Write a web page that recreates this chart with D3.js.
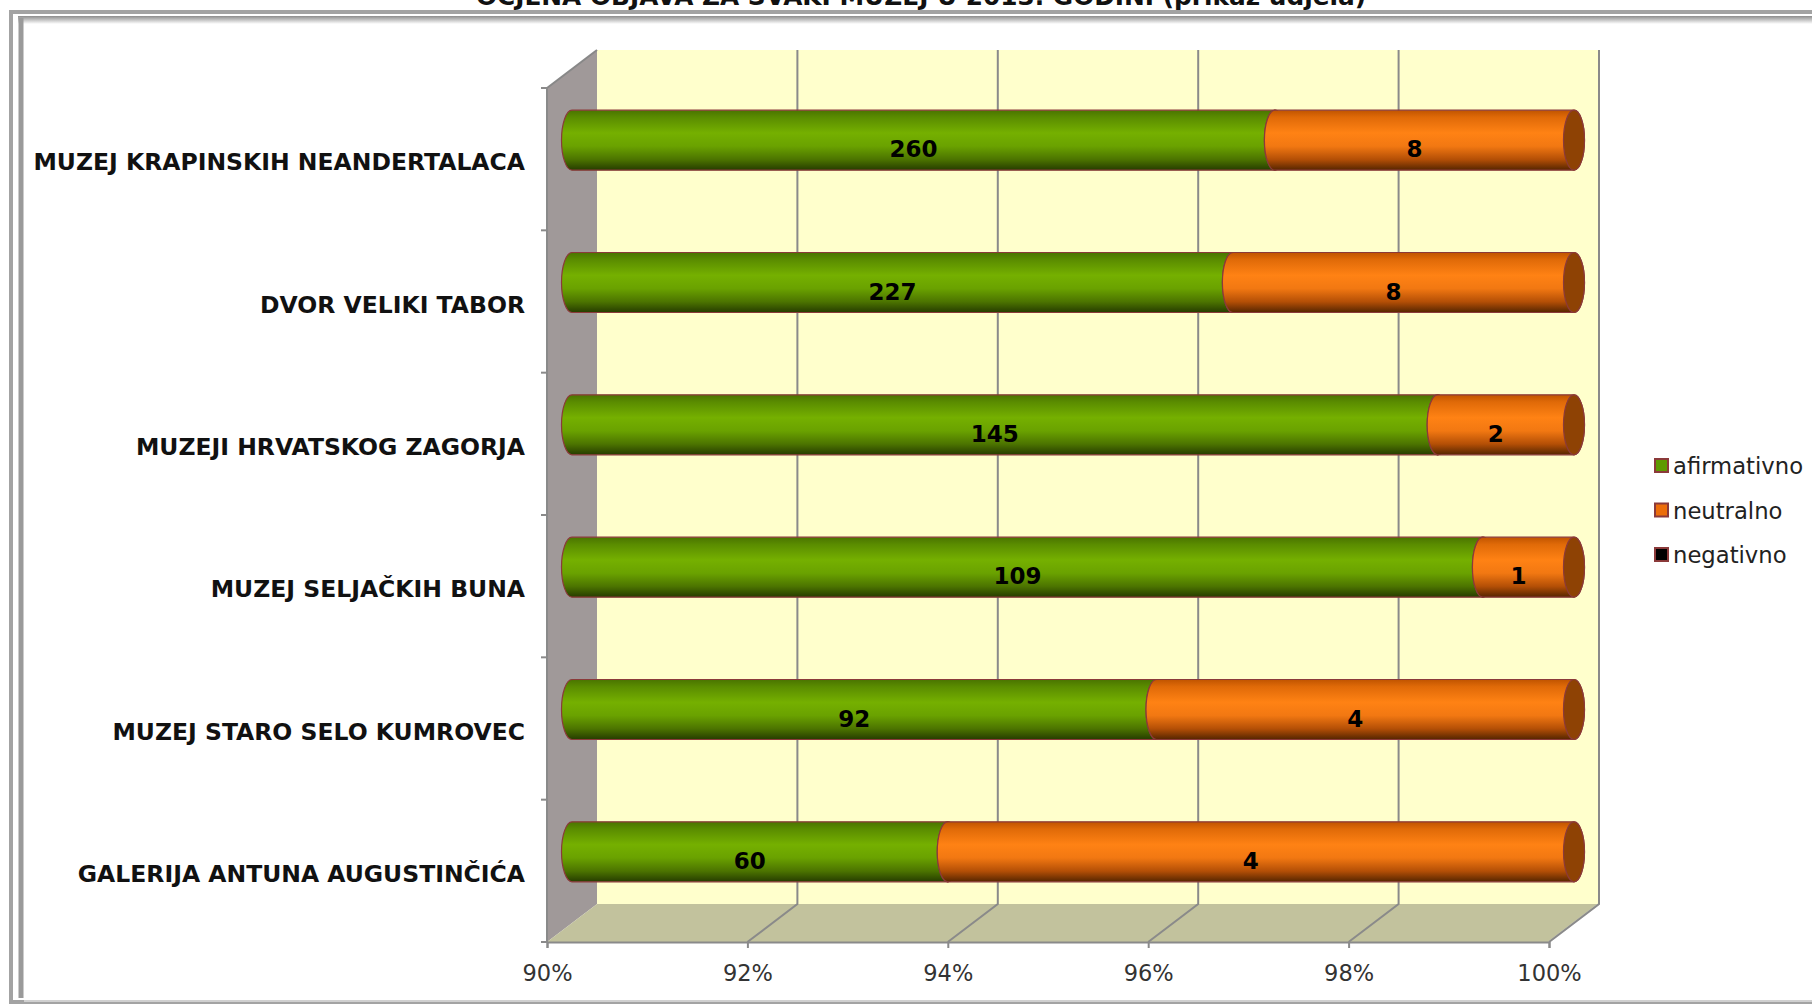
<!DOCTYPE html>
<html>
  <head>
    <meta charset="utf-8">
    <title>Ocjena objava za svaki muzej u 2013. godini</title>
    <script src="https://d3js.org/d3.v7.min.js"></script>
    <style>
      body { margin: 0; background: #fff; }
      svg { display: block; font-family: "DejaVu Sans", Verdana, sans-serif; }
    </style>
  </head>
  <body>
    <div id="chart"></div>

    <script>
      // data
      const categories = [
        "MUZEJ KRAPINSKIH NEANDERTALACA",
        "DVOR VELIKI TABOR",
        "MUZEJI HRVATSKOG ZAGORJA",
        "MUZEJ SELJAČKIH BUNA",
        "MUZEJ STARO SELO KUMROVEC",
        "GALERIJA ANTUNA AUGUSTINČIĆA"
      ];
      const afirmativno = [260, 227, 145, 109, 92, 60];
      const neutralno = [8, 8, 2, 1, 4, 4];
      const negativno = [0, 0, 0, 0, 0, 0];
      const seriesNames = ["afirmativno", "neutralno", "negativno"];
      const tickValues = [0.90, 0.92, 0.94, 0.96, 0.98, 1.00];
      const title = "OCJENA OBJAVA ZA SVAKI MUZEJ U 2013. GODINI (prikaz udjela)";

      const W = 1812, H = 1005;
      const svg = d3.select("#chart").append("svg").attr("width", W).attr("height", H);

      // plot geometry (front plane) and 3d depth offset
      const pL = 547, pR = 1549, pT = 88, pB = 942;
      const depthX = 50, depthY = -38;

      const x = d3.scaleLinear().domain([0.9, 1]).range([pL, pR]);
      const y = d3.scaleBand().domain(categories).range([pT, pB]);

      const defs = svg.append("defs");
      function grad(id, stops) {
        const g = defs.append("linearGradient").attr("id", id)
          .attr("x1", 0).attr("y1", 0).attr("x2", 0).attr("y2", 1);
        stops.forEach(s => g.append("stop").attr("offset", s[0]).attr("stop-color", s[1]));
      }
      grad("g-green", [[0, "#4a7400"], [0.12, "#5a8c00"], [0.38, "#75b000"], [0.6, "#6aa200"], [0.82, "#4c7400"], [1, "#263c00"]]);
      grad("g-orange", [[0, "#c05400"], [0.12, "#e06a08"], [0.38, "#ff8214"], [0.6, "#f27812"], [0.82, "#b44f06"], [1, "#552500"]]);
      grad("g-black", [[0, "#333"], [0.4, "#111"], [1, "#000"]]);
      grad("g-frameTop", [[0, "#8c8c8c"], [1, "#ffffff"]]);
      const fills = ["url(#g-green)", "url(#g-orange)", "url(#g-black)"];
      const capFills = ["#4e7d00", "#8e4204", "#111"];
      const legendFills = ["#5e9a00", "#ec6e0a", "#000"];

      // title (cut off at top in the original)
      svg.append("text")
        .attr("x", 921).attr("y", 5)
        .attr("text-anchor", "middle")
        .style("font-size", "24.8px").style("font-weight", "bold").style("fill", "#111")
        .text(title);

      // outer frame
      svg.append("rect").attr("x", 11).attr("y", 12).attr("width", 1830).attr("height", 990)
        .attr("fill", "none").attr("stroke", "#a3a3a3").attr("stroke-width", 4);
      svg.append("rect").attr("x", 18).attr("y", 16).attr("width", 1820).attr("height", 8)
        .attr("fill", "url(#g-frameTop)");
      svg.append("line").attr("x1", 21).attr("x2", 21).attr("y1", 18).attr("y2", 998)
        .attr("stroke", "#9a9a9a").attr("stroke-width", 5);
      svg.append("line").attr("x1", 24).attr("x2", 1812).attr("y1", 1001).attr("y2", 1001)
        .attr("stroke", "#d0d0d0").attr("stroke-width", 2);

      // back wall
      svg.append("rect")
        .attr("x", pL + depthX).attr("y", pT + depthY)
        .attr("width", pR - pL).attr("height", pB - pT)
        .attr("fill", "#ffffcc");
      // left wall
      svg.append("path")
        .attr("d", `M${pL},${pT} L${pL + depthX},${pT + depthY} L${pL + depthX},${pB + depthY} L${pL},${pB} Z`)
        .attr("fill", "#a09999");
      svg.append("line").attr("x1", pL).attr("y1", pT).attr("x2", pL + depthX).attr("y2", pT + depthY)
        .attr("stroke", "#888").attr("stroke-width", 2);
      // floor
      svg.append("path")
        .attr("d", `M${pL},${pB} L${pL + depthX},${pB + depthY} L${pR + depthX},${pB + depthY} L${pR},${pB} Z`)
        .attr("fill", "#c2c29d");
      svg.append("line").attr("x1", pR).attr("y1", pB).attr("x2", pR + depthX).attr("y2", pB + depthY)
        .attr("stroke", "#ddd").attr("stroke-width", 2);

      // gridlines on wall and floor
      const grid = svg.append("g").attr("stroke", "#8a8a8a").attr("stroke-width", 2).attr("fill", "none");
      grid.selectAll("path").data(tickValues.slice(1)).enter().append("path")
        .attr("d", d => `M${x(d)},${pB} L${x(d) + depthX},${pB + depthY} L${x(d) + depthX},${pT + depthY}`);

      // front axis lines
      svg.append("line").attr("x1", pL).attr("x2", pL).attr("y1", pT).attr("y2", pB)
        .attr("stroke", "#8a8a8a").attr("stroke-width", 2);
      svg.append("g").selectAll("line").data(d3.range(categories.length + 1)).enter().append("line")
        .attr("x1", pL - 6).attr("x2", pL)
        .attr("y1", i => pT + i * y.step()).attr("y2", i => pT + i * y.step())
        .attr("stroke", "#8a8a8a").attr("stroke-width", 2);

      const xAxis = svg.append("g")
        .attr("transform", `translate(0,${pB})`)
        .call(d3.axisBottom(x).tickValues(tickValues).tickFormat(d3.format(".0%")).tickSize(6).tickPadding(17));
      xAxis.select(".domain").attr("stroke", "#8a8a8a").attr("stroke-width", 2);
      xAxis.selectAll(".tick line").attr("stroke", "#8a8a8a").attr("stroke-width", 2);
      xAxis.selectAll(".tick text").style("font-size", "22.5px").style("fill", "#333")
        .style("font-family", "'DejaVu Sans', Verdana, sans-serif");

      // category labels
      const yAxis = svg.append("g")
        .attr("transform", `translate(${pL},3.5)`)
        .call(d3.axisLeft(y).tickSize(0).tickPadding(22));
      yAxis.select(".domain").remove();
      yAxis.selectAll(".tick text").style("font-size", "23.5px").style("font-weight", "bold").style("fill", "#111")
        .style("font-family", "'DejaVu Sans', Verdana, sans-serif");

      // stacked cylinders
      const rows = categories.map((c, i) => {
        const vals = [afirmativno[i], neutralno[i], negativno[i]];
        const total = d3.sum(vals);
        let acc = 0;
        const segs = vals.map((v, k) => {
          const s = { k: k, v: v, start: acc / total, end: (acc + v) / total };
          acc += v;
          return s;
        }).filter(s => s.v > 0);
        return { cat: c, segs: segs };
      });

      const ry = 30, rx = 10.5;
      const bars = svg.append("g").attr("transform", `translate(${depthX / 2},${depthY / 2})`);
      rows.forEach(r => {
        const cy = y(r.cat) + y.bandwidth() / 2;
        r.segs.forEach(s => {
          const xa = x(Math.max(0.9, s.start)), xb = x(s.end);
          if (xb <= xa) return;
          bars.append("path")
            .attr("d", `M${xa},${cy - ry} L${xb},${cy - ry} A${rx},${ry} 0 0 1 ${xb},${cy + ry} L${xa},${cy + ry} A${rx},${ry} 0 0 1 ${xa},${cy - ry} Z`)
            .attr("fill", fills[s.k]).attr("stroke", "#8b3a3a").attr("stroke-width", 1.2);
          bars.append("ellipse")
            .attr("cx", xb).attr("cy", cy).attr("rx", rx).attr("ry", ry)
            .attr("fill", capFills[s.k]).attr("stroke", "#8b3a3a").attr("stroke-width", 1.2);
        });
        r.segs.forEach(s => {
          const xa = x(Math.max(0.9, s.start)), xb = x(s.end);
          bars.append("text")
            .attr("x", (xa + xb) / 2 - 10).attr("y", cy + 9)
            .attr("text-anchor", "middle").attr("dominant-baseline", "central")
            .style("font-size", "23px").style("font-weight", "bold").style("fill", "#000")
            .text(s.v);
        });
      });

      // legend
      const legend = svg.append("g").attr("transform", "translate(1655,459)");
      const items = legend.selectAll("g").data(seriesNames).enter().append("g")
        .attr("transform", (d, i) => `translate(0,${i * 44.5})`);
      items.append("rect").attr("width", 13).attr("height", 13)
        .attr("fill", (d, i) => legendFills[i]).attr("stroke", "#8b3a3a").attr("stroke-width", 2);
      items.append("text").attr("x", 18).attr("y", 7).attr("dominant-baseline", "central")
        .style("font-size", "22.7px").style("fill", "#222").text(d => d);
    </script>
  </body>
</html>
